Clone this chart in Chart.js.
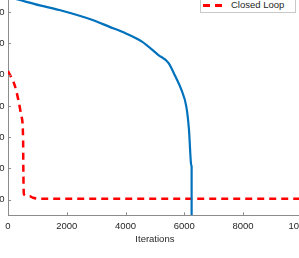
<!DOCTYPE html>
<html>
<head>
<meta charset="utf-8">
<script src="https://cdn.jsdelivr.net/npm/chart.js@4"></script>
<style>
  html, body { margin: 0; padding: 0; background: #fff; overflow: hidden; }
  body { width: 299px; height: 258px; position: relative; }
  #wrap { position: absolute; left: -40px; top: -30px; width: 360px; height: 280px; }
  #legend {
    position: absolute; left: 200px; top: -16px; width: 94px; height: 27px;
    border: 1px solid #c8c8c8; background: #fff;
    font: 9.5px "Liberation Sans", Arial, Helvetica, sans-serif; color: #262626;
  }
  .row { position: absolute; left: 0; height: 14px; line-height: 14px; white-space: nowrap; }
  .row .lbl { position: absolute; left: 30px; top: 0; }
  .seg { position: absolute; top: 6px; height: 2px; }
</style>
</head>
<body>
<div id="wrap"><canvas id="chart" width="360" height="280"></canvas></div>
<div id="legend">
  <div class="row" style="top:-1px">
    <span class="seg" style="left:2px;width:19px;background:#0072BD"></span>
    <span class="lbl">Open Loop</span>
  </div>
  <div class="row" style="top:13px">
    <span class="seg" style="left:2px;width:7px;background:#ff0000;height:2.5px"></span>
    <span class="seg" style="left:14px;width:7px;background:#ff0000;height:2.5px"></span>
    <span class="lbl">Closed Loop</span>
  </div>
</div>
<script>
// data
const openIter = [0, 400, 1080, 1750, 2880, 3440, 4000, 4560, 5120, 5460, 5700, 5900, 6070, 6160, 6225, 6250, 6250];
const openValue = [74.9, 73.9, 72.2, 70.7, 67.5, 65.4, 63.3, 60.6, 56.3, 53.8, 49.4, 45.2, 39.8, 32.4, 21.9, 20.6, 5];
const closedIter = [0, 240, 350, 460, 515, 520, 540, 740, 850, 1200, 10000];
const closedValue = [51.2, 46.3, 42.0, 36.6, 29.2, 21.9, 11.7, 11.1, 10.6, 10.3, 10.3];
const xTicks = [0, 2000, 4000, 6000, 8000, 10000];
const yTicks = [10, 20, 30, 40, 50, 60, 70, 80];

const FONT = { family: '"Liberation Sans", Arial, Helvetica, sans-serif', size: 9.5 };
const AXIS = '#8c8c8c';
const TEXT = '#262626';

function pts(xs, ys) {
  return xs.map((x, i) => ({ x: x, y: ys[i] }));
}

// MATLAB style ticks pointing into the plot
const innerTicks = {
  id: 'innerTicks',
  afterDatasetsDraw(chart) {
    const { ctx, chartArea, scales } = chart;
    ctx.save();
    ctx.strokeStyle = AXIS;
    ctx.lineWidth = 1;
    ctx.beginPath();
    scales.x.ticks.forEach(t => {
      const px = Math.round(scales.x.getPixelForValue(t.value)) + 0.5;
      ctx.moveTo(px, chartArea.bottom);
      ctx.lineTo(px, chartArea.bottom - 3);
    });
    scales.y.ticks.forEach(t => {
      const py = Math.round(scales.y.getPixelForValue(t.value)) + 0.5;
      ctx.moveTo(chartArea.left, py);
      ctx.lineTo(chartArea.left + 3, py);
    });
    ctx.stroke();
    ctx.restore();
  }
};

new Chart(document.getElementById('chart').getContext('2d'), {
  type: 'scatter',
  data: {
    datasets: [
      {
        label: 'Open Loop',
        data: pts(openIter, openValue),
        showLine: true,
        borderColor: '#0072BD',
        borderWidth: 2.2,
        pointRadius: 0,
        cubicInterpolationMode: 'monotone'
      },
      {
        label: 'Closed Loop',
        data: pts(closedIter, closedValue),
        showLine: true,
        borderColor: '#ff0000',
        borderWidth: 2.5,
        borderDash: [7, 5],
        pointRadius: 0,
        cubicInterpolationMode: 'monotone'
      }
    ]
  },
  options: {
    responsive: false,
    animation: false,
    events: [],
    layout: { padding: { left: 0, right: 15.5, top: 11, bottom: 0 } },
    plugins: { legend: { display: false }, tooltip: { enabled: false } },
    scales: {
      x: {
        type: 'linear',
        min: 0,
        max: 10000,
        afterBuildTicks: s => { s.ticks = xTicks.map(v => ({ value: v })); },
        afterFit: s => { s.height = 34.7; },
        grid: { display: true, drawOnChartArea: false, drawTicks: false },
        border: { color: AXIS, width: 1 },
        ticks: { color: TEXT, font: FONT, padding: 5, maxRotation: 0, callback: v => String(v) },
        title: { display: true, text: 'Iterations', color: TEXT, font: FONT, padding: { top: 0, bottom: 5 } }
      },
      y: {
        type: 'linear',
        min: 5,
        max: 80,
        afterBuildTicks: s => { s.ticks = yTicks.map(v => ({ value: v })); },
        afterFit: s => { s.width = 48; },
        grid: { display: true, drawOnChartArea: false, drawTicks: false },
        border: { color: AXIS, width: 1 },
        ticks: { color: TEXT, font: FONT, padding: 3.5, callback: v => String(v) }
      }
    }
  },
  plugins: [innerTicks]
});
</script>
</body>
</html>
